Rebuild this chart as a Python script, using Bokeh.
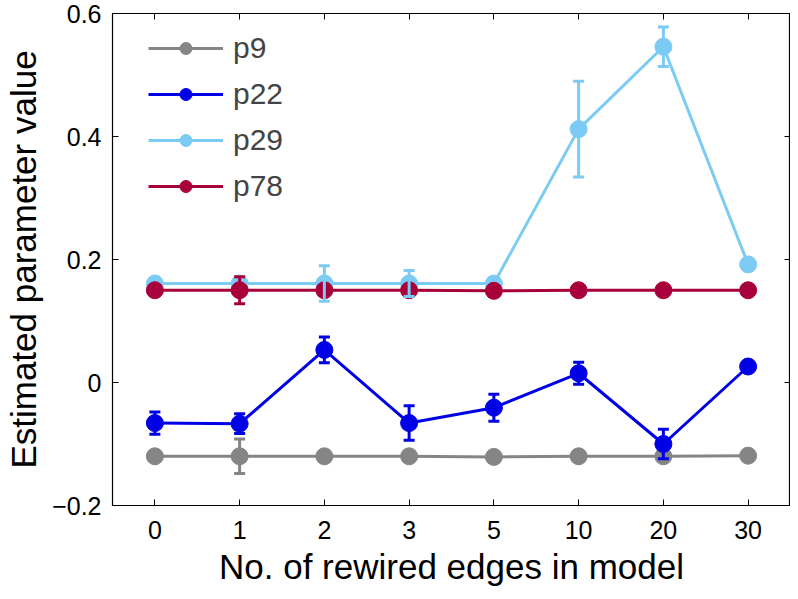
from bokeh.plotting import figure
from bokeh.models import (FactorRange, Range1d, Whisker, TeeHead, ColumnDataSource,
                          Legend, LegendItem, LinearAxis, CategoricalAxis, FixedTicker,
                          CustomLabelingPolicy)
from bokeh.embed import file_html
from bokeh.resources import INLINE

# ---- data ----
x_labels = ["0", "1", "2", "3", "5", "10", "20", "30"]
p9 = [-0.120, -0.120, -0.120, -0.120, -0.121, -0.120, -0.120, -0.119]
p9_err = [0, 0.028, 0, 0, 0, 0, 0, 0]
p22 = [-0.066, -0.067, 0.053, -0.066, -0.041, 0.015, -0.100, 0.026]
p22_err = [0.018, 0.016, 0.021, 0.028, 0.022, 0.018, 0.024, 0]
p29 = [0.161, 0.161, 0.161, 0.161, 0.161, 0.412, 0.546, 0.192]
p29_err = [0, 0, 0.029, 0.021, 0, 0.078, 0.032, 0]
p78 = [0.150, 0.150, 0.150, 0.150, 0.149, 0.150, 0.150, 0.150]
p78_err = [0, 0.022, 0, 0, 0, 0, 0, 0]
series_names = ["p9", "p22", "p29", "p78"]
series_vals = [p9, p22, p29, p78]
series_errs = [p9_err, p22_err, p29_err, p78_err]
colors = ["#858585", "#0000e6", "#7ccbf5", "#a8003b"]
y_ticks = [-0.2, 0, 0.2, 0.4, 0.6]
y_tick_labels = {-0.2: "\u22120.2", 0: "0", 0.2: "0.2", 0.4: "0.4", 0.6: "0.6"}

FONT = "Liberation Sans"

p = figure(x_range=FactorRange(factors=x_labels, range_padding=0),
           y_range=Range1d(-0.2, 0.6),
           width=790, height=591, output_backend="svg", toolbar_location=None,
           min_border_left=112, min_border_right=0, min_border_top=13, min_border_bottom=86)

p.xgrid.grid_line_color = None
p.ygrid.grid_line_color = None
p.outline_line_color = "black"
p.outline_line_width = 1.2

for ax in (p.xaxis[0], p.yaxis[0]):
    ax.major_tick_in = 6
    ax.major_tick_out = 0
    ax.minor_tick_line_color = None
    ax.axis_line_color = "black"
    ax.major_tick_line_color = "black"
    ax.major_label_text_font = FONT
    ax.major_label_text_font_size = "25px"
    ax.major_label_text_color = "black"
    ax.axis_label_text_font = FONT
    ax.axis_label_text_font_size = "35px"
    ax.axis_label_text_font_style = "normal"
    ax.axis_label_text_color = "black"

p.yaxis[0].ticker = FixedTicker(ticks=y_ticks)
p.yaxis[0].major_label_overrides = y_tick_labels
p.yaxis[0].major_label_standoff = 11
p.yaxis[0].axis_label = "Estimated parameter value"
p.yaxis[0].axis_label_standoff = 6
p.xaxis[0].major_label_standoff = 15
p.xaxis[0].axis_label = "No. of rewired edges in model"
p.xaxis[0].axis_label_standoff = 5

hide_all = "for (const i of indices) indices.unset(i)"
right = LinearAxis(ticker=FixedTicker(ticks=y_ticks), major_label_text_font_size="0px",
                   major_tick_in=6, major_tick_out=0, minor_tick_line_color=None,
                   major_label_standoff=0, axis_line_color="black",
                   major_label_policy=CustomLabelingPolicy(code=hide_all))
top = CategoricalAxis(major_label_text_font_size="0px", major_tick_in=6, major_tick_out=0,
                      major_label_standoff=0, axis_line_color="black",
                      major_label_policy=CustomLabelingPolicy(code=hide_all))
p.add_layout(right, "right")
p.add_layout(top, "above")

items = []
for name, vals, errs, c in zip(series_names, series_vals, series_errs, colors):
    src = ColumnDataSource(dict(x=x_labels, y=vals))
    lr = p.line("x", "y", source=src, line_color=c, line_width=3)
    ex = [x for x, e in zip(x_labels, errs) if e > 0]
    ey = [v for v, e in zip(vals, errs) if e > 0]
    ee = [e for e in errs if e > 0]
    esrc = ColumnDataSource(dict(x=ex, upper=[v + e for v, e in zip(ey, ee)],
                                 lower=[v - e for v, e in zip(ey, ee)]))
    w = Whisker(base="x", upper="upper", lower="lower", source=esrc, dimension="height",
                line_color=c, line_width=3, level="glyph",
                upper_head=TeeHead(size=11, line_color=c, line_width=3),
                lower_head=TeeHead(size=11, line_color=c, line_width=3))
    p.add_layout(w)
    cr = p.scatter("x", "y", source=src, marker="circle", size=17, fill_color=c, line_color=c)
    items.append(LegendItem(label=name, renderers=[lr, cr]))

legend = Legend(items=items, location=(36, 302), margin=0, padding=0,
                glyph_width=75, glyph_height=30, label_height=30, spacing=12,
                label_standoff=10, label_text_font=FONT, label_text_font_size="30px",
                border_line_color=None, background_fill_alpha=0)
p.add_layout(legend)

open("out.html", "w").write(file_html(p, INLINE))
